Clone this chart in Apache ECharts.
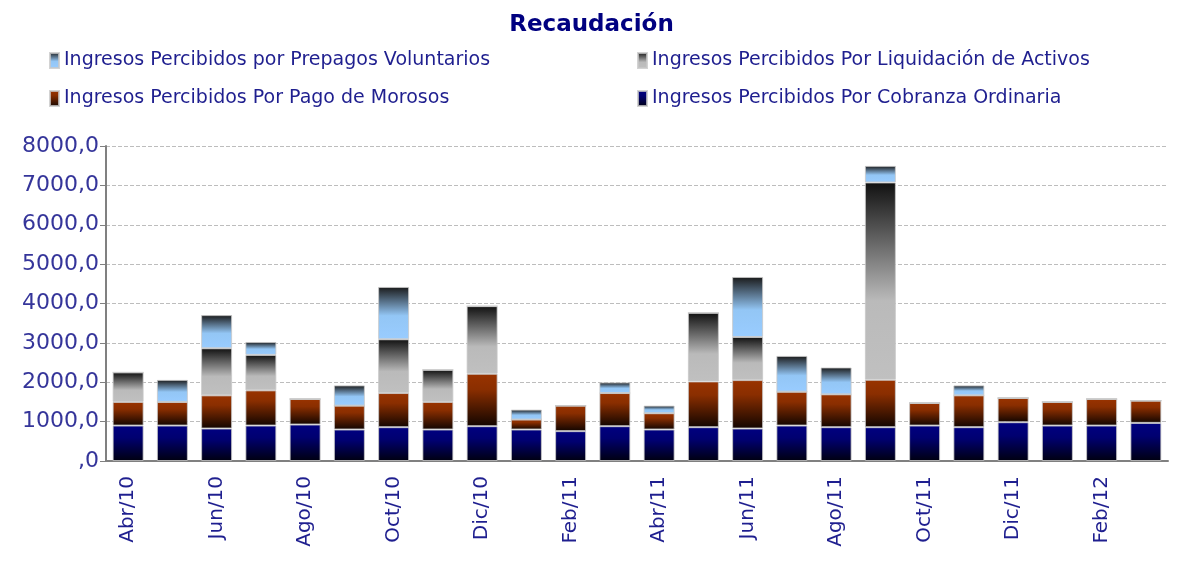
<!DOCTYPE html>
<html lang="es" style="height: 100%">
<head>
  <meta charset="utf-8">
  <title>Recaudación</title>
  <script src="https://cdn.jsdelivr.net/npm/echarts@6/dist/echarts.min.js"></script>
</head>
<body style="height: 100%; margin: 0; background: #fff">
  <div id="container" style="width: 1183px; height: 569px"></div>
  <script type="text/javascript">
    // meses (Abr/10 .. Mar/12)
    var months = ['Abr/10', 'May/10', 'Jun/10', 'Jul/10', 'Ago/10', 'Sep/10', 'Oct/10', 'Nov/10',
      'Dic/10', 'Ene/11', 'Feb/11', 'Mar/11', 'Abr/11', 'May/11', 'Jun/11', 'Jul/11',
      'Ago/11', 'Sep/11', 'Oct/11', 'Nov/11', 'Dic/11', 'Ene/12', 'Feb/12', 'Mar/12'];

    // valores
    var cobranza = [900, 900, 825, 900, 926, 800, 859, 800, 884, 800, 758, 884,
      800, 859, 825, 900, 859, 859, 900, 859, 985, 900, 900, 968];
    var morosos = [600, 600, 842, 894, 649, 606, 867, 700, 1331, 253, 648, 842,
      413, 1162, 1230, 860, 834, 1204, 574, 808, 615, 600, 675, 565];
    var liquidacion = [750, 0, 1196, 901, 0, 0, 1365, 816, 1718, 0, 0, 0,
      0, 1743, 1094, 0, 0, 5011, 0, 0, 0, 0, 0, 0];
    var prepagos = [0, 560, 842, 328, 0, 514, 1330, 0, 0, 252, 0, 270,
      193, 0, 1525, 909, 682, 421, 0, 253, 0, 0, 0, 0];

    var dom = document.getElementById('container');
    var myChart = echarts.init(dom, null, { renderer: 'canvas' });

    var font = 'DejaVu Sans';
    var textBlue = '#1f1f8f';

    function grad(stops) {
      return new echarts.graphic.LinearGradient(0, 0, 0, 1, stops);
    }
    var fillCobranza = grad([
      { offset: 0, color: '#000080' }, { offset: 0.35, color: '#000070' }, { offset: 1, color: '#000010' }
    ]);
    var fillMorosos = grad([
      { offset: 0, color: '#993300' }, { offset: 0.3, color: '#8a2e00' }, { offset: 1, color: '#120500' }
    ]);
    var fillLiquidacion = grad([
      { offset: 0, color: '#111111' }, { offset: 0.6, color: '#bababa' }, { offset: 1, color: '#c0c0c0' }
    ]);
    var fillPrepagos = grad([
      { offset: 0, color: '#1a1a1a' }, { offset: 0.55, color: '#93c6f5' }, { offset: 1, color: '#99ccff' }
    ]);

    function bar(name, data, fill) {
      return {
        name: name,
        type: 'bar',
        stack: 'total',
        barCategoryGap: '30%',
        data: data,
        itemStyle: { color: fill, borderColor: 'rgba(200,200,200,0.8)', borderWidth: 1 }
      };
    }

    function legendAt(name, left, top) {
      return {
        data: [name],
        left: left,
        top: top,
        icon: 'rect',
        itemWidth: 9,
        itemHeight: 15,
        itemGap: 6,
        selectedMode: false,
        textStyle: { fontFamily: font, fontSize: 19, color: textBlue }
      };
    }

    var nPre = 'Ingresos Percibidos por Prepagos Voluntarios';
    var nLiq = 'Ingresos Percibidos Por Liquidación de Activos';
    var nMor = 'Ingresos Percibidos Por Pago de Morosos';
    var nCob = 'Ingresos Percibidos Por Cobranza Ordinaria';

    var option = {
      animation: false,
      title: {
        text: 'Recaudación',
        left: 'center',
        top: 9,
        textStyle: { fontFamily: font, fontSize: 23, fontWeight: 'bold', color: '#000080' }
      },
      legend: [
        legendAt(nPre, 44, 46),
        legendAt(nLiq, 632, 46),
        legendAt(nMor, 44, 84),
        legendAt(nCob, 632, 84)
      ],
      grid: { left: 106, right: 15, top: 146, bottom: 108 },
      xAxis: {
        type: 'category',
        data: months,
        axisLine: { lineStyle: { color: '#808080', width: 2 } },
        axisTick: { interval: 1, length: 8, lineStyle: { color: '#808080' } },
        axisLabel: {
          interval: 1,
          rotate: 90,
          margin: 15,
          fontFamily: font,
          fontSize: 20,
          color: textBlue
        }
      },
      yAxis: {
        type: 'value',
        min: 0,
        max: 8000,
        interval: 1000,
        axisLine: { show: true, lineStyle: { color: '#808080', width: 2 } },
        axisTick: { show: true, length: 6, lineStyle: { color: '#808080' } },
        axisLabel: {
          margin: 7,
          fontFamily: font,
          fontSize: 22,
          color: '#35359a',
          formatter: function (v) { return v === 0 ? ',0' : v + ',0'; }
        },
        splitLine: { lineStyle: { color: '#bdbdbd', type: 'dashed' } }
      },
      series: [
        bar(nCob, cobranza, fillCobranza),
        bar(nMor, morosos, fillMorosos),
        bar(nLiq, liquidacion, fillLiquidacion),
        bar(nPre, prepagos, fillPrepagos)
      ]
    };

    myChart.setOption(option);
    window.addEventListener('resize', myChart.resize);
  </script>
</body>
</html>
